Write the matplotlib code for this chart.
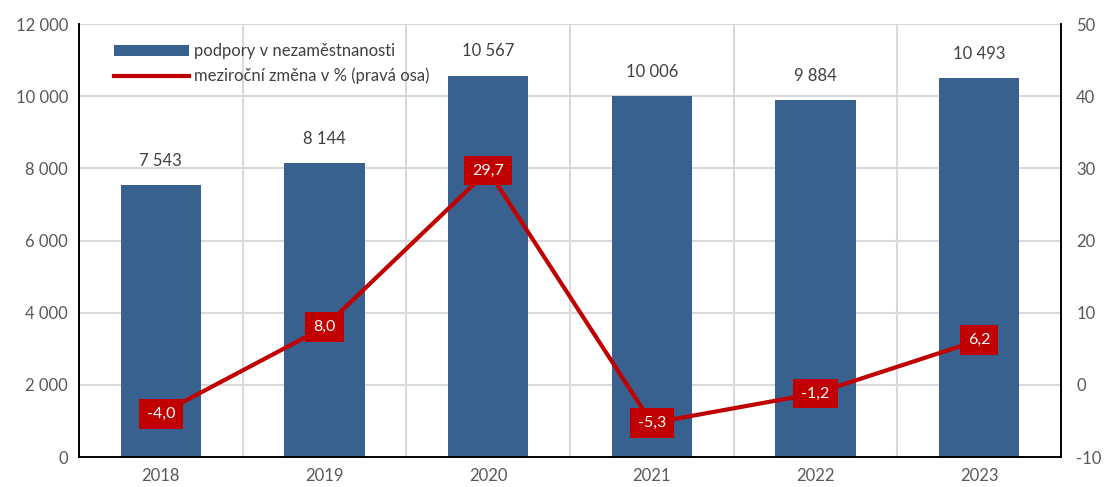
import numpy as np
import matplotlib
matplotlib.use('Agg')
import matplotlib.pyplot as plt

years = ['2018', '2019', '2020', '2021', '2022', '2023']
podpory = [7543, 8144, 10567, 10006, 9884, 10493]
zmena = [-4.0, 8.0, 29.7, -5.3, -1.2, 6.2]

plt.rcParams['font.family'] = ['Lato', 'DejaVu Sans']
plt.rcParams['axes.unicode_minus'] = False

def fmt_thousands(v):
    return '{:,.0f}'.format(v).replace(',', ' ')

fig = plt.figure(figsize=(11.04, 4.87), dpi=100)
ax1 = fig.add_axes([0.0716, 0.0616, 0.8894, 0.8891])
ax2 = ax1.twinx()

x = np.arange(len(years))
bars = ax1.bar(x, podpory, width=0.49, color='#386190', zorder=2,
               label='podpory v nezaměstnanosti')
for xi, v in zip(x, podpory):
    ax1.text(xi, v + 450, fmt_thousands(v), ha='center', va='bottom',
             fontsize=12, color='#404040')

ax1.set_xlim(-0.5, len(years) - 0.5)
ax1.set_ylim(0, 12000)
ax1.set_yticks(np.arange(0, 12001, 2000))
ax1.set_yticklabels([fmt_thousands(v) for v in np.arange(0, 12001, 2000)])
ax1.set_xticks(x)
ax1.set_xticklabels(years)
ax1.tick_params(axis='both', length=0, labelsize=12, labelcolor='#595959', pad=8)
ax1.yaxis.grid(True, color='#d9d9d9', linewidth=1.5, zorder=0)
for b in np.arange(0.5, len(years) - 1, 1):
    ax1.axvline(b, color='#d9d9d9', linewidth=1.5, zorder=0)
ax1.set_axisbelow(True)

line, = ax2.plot(x, zmena, color='#c00000', linewidth=3, zorder=3,
                 label='meziroční změna v % (pravá osa)')
for xi, v in zip(x, zmena):
    ax2.text(xi, v, '{:.1f}'.format(v).replace('.', ','), ha='center', va='center',
             fontsize=11.5, color='white', zorder=4,
             bbox=dict(boxstyle='square,pad=0.5', facecolor='#c00000', edgecolor='none'))
ax2.set_ylim(-10, 50)
ax2.set_yticks(np.arange(-10, 51, 10))
ax2.tick_params(axis='y', length=0, labelsize=12, labelcolor='#595959', pad=11)

for ax in (ax1, ax2):
    ax.spines['top'].set_visible(False)
    for s in ('left', 'right', 'bottom'):
        ax.spines[s].set_color('black')
        ax.spines[s].set_linewidth(1.2)

ax1.legend(handles=[bars, line], loc='upper left', bbox_to_anchor=(0.02, 0.99),
           frameon=False, fontsize=12, labelcolor='#404040',
           handlelength=4.5, handleheight=0.6, handletextpad=0.3, labelspacing=0.5)

fig.savefig('out.png', dpi=100)
